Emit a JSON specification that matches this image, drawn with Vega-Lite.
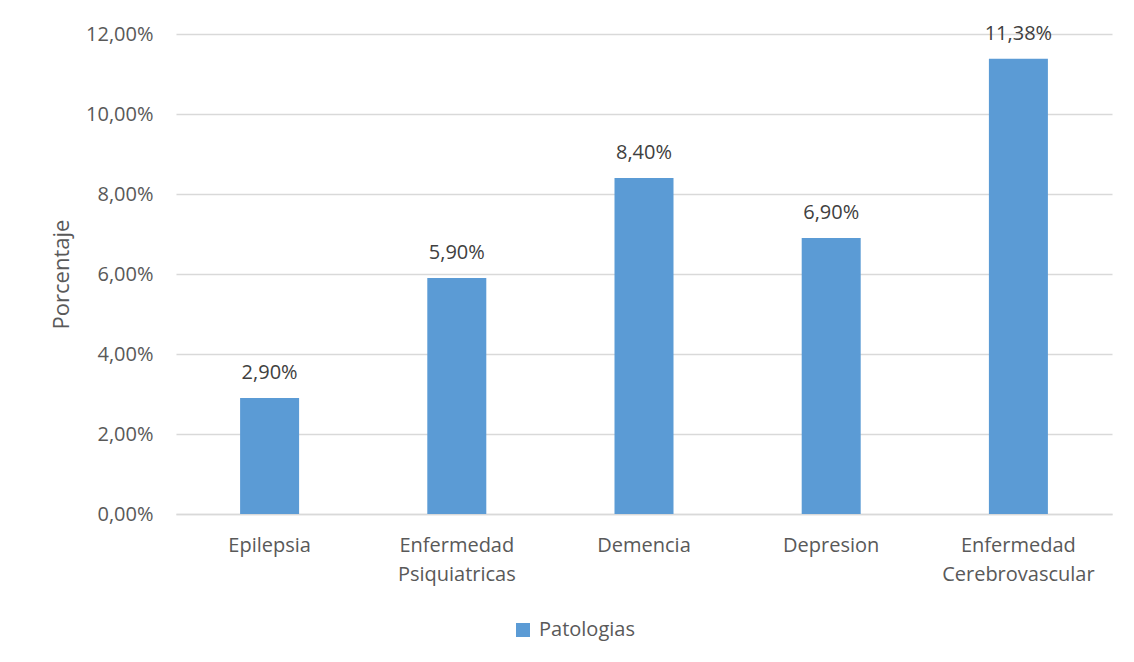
{
  "$schema": "https://vega.github.io/schema/vega-lite/v6.json",
  "width": 936,
  "height": 480,
  "autosize": {"type": "none"},
  "padding": {"left": 176, "top": 34, "right": 22, "bottom": 148},
  "background": "#ffffff",
  "data": {
    "values": [
      {"patologia": "Epilepsia", "porcentaje": 0.029, "serie": "Patologias"},
      {"patologia": "Enfermedad Psiquiatricas", "porcentaje": 0.059, "serie": "Patologias"},
      {"patologia": "Demencia", "porcentaje": 0.084, "serie": "Patologias"},
      {"patologia": "Depresion", "porcentaje": 0.069, "serie": "Patologias"},
      {"patologia": "Enfermedad Cerebrovascular", "porcentaje": 0.1138, "serie": "Patologias"}
    ]
  },
  "encoding": {
    "x": {
      "field": "patologia",
      "type": "nominal",
      "sort": null,
      "scale": {"paddingInner": 0, "paddingOuter": 0},
      "axis": {
        "title": null,
        "labelAngle": 0,
        "labelExpr": "split(datum.value, ' ')",
        "labelFont": "Open Sans",
        "labelFontSize": 20,
        "labelColor": "#595959",
        "labelPadding": 21,
        "labelLineHeight": 29,
        "ticks": false,
        "domainColor": "#d9d9d9",
        "domainWidth": 1.5,
        "grid": false
      }
    },
    "y": {
      "field": "porcentaje",
      "type": "quantitative",
      "scale": {"domain": [0, 0.12], "nice": false},
      "axis": {
        "title": "Porcentaje",
        "titleFont": "Open Sans",
        "titleFontSize": 22,
        "titleFontWeight": "normal",
        "titleColor": "#595959",
        "titlePadding": 12,
        "values": [0, 0.02, 0.04, 0.06, 0.08, 0.1, 0.12],
        "format": ".2%",
        "labelFont": "Open Sans",
        "labelFontSize": 20,
        "labelColor": "#595959",
        "labelPadding": 23,
        "ticks": false,
        "domain": false,
        "gridColor": "#d9d9d9",
        "gridWidth": 1.5
      }
    }
  },
  "layer": [
    {
      "mark": {"type": "bar", "width": 59},
      "encoding": {
        "color": {
          "field": "serie",
          "type": "nominal",
          "scale": {"range": ["#5b9bd5"]},
          "legend": {
            "title": null,
            "orient": "none",
            "legendX": 337,
            "legendY": 586,
            "symbolType": "square",
            "symbolSize": 196,
            "symbolStrokeWidth": 0,
            "labelFont": "Open Sans",
            "labelFontSize": 20,
            "labelColor": "#595959",
            "labelOffset": 6,
            "padding": 0
          }
        }
      }
    },
    {
      "mark": {
        "type": "text",
        "baseline": "alphabetic",
        "dy": -19,
        "font": "Open Sans",
        "fontSize": 20,
        "color": "#404040"
      },
      "encoding": {
        "text": {"field": "porcentaje", "type": "quantitative", "format": ".2%"}
      }
    }
  ],
  "config": {
    "locale": {
      "number": {
        "decimal": ",",
        "thousands": ".",
        "grouping": [3],
        "currency": ["", " €"]
      }
    },
    "view": {"stroke": null}
  }
}
